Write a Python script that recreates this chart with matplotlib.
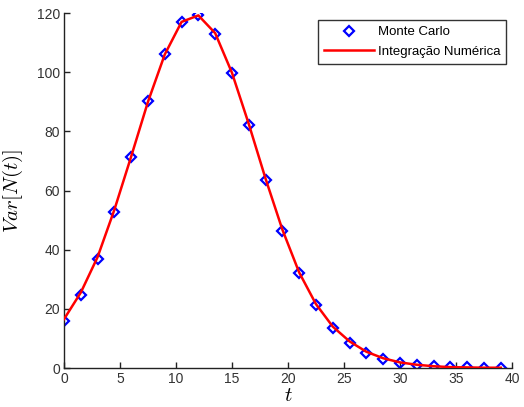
import matplotlib
matplotlib.use("Agg")
import matplotlib.pyplot as plt

plt.rcParams['mathtext.fontset'] = 'cm'

t_mc = [0, 1.5, 3, 4.5, 6, 7.5, 9, 10.5, 12, 13.5, 15, 16.5, 18, 19.5, 21,
        22.5, 24, 25.5, 27, 28.5, 30, 31.5, 33, 34.5, 36, 37.5, 39]
var_mc = [16.0, 24.8, 37.0, 52.8, 71.2, 90.2, 106.3, 117.0, 119.5, 113.0, 99.6,
          82.3, 63.6, 46.2, 32.0, 21.3, 13.5, 8.3, 5.1, 3.0, 1.8, 1.0, 0.7,
          0.3, 0.2, 0.1, 0.1]

t_num = [0, 1.5, 3, 4.5, 6, 7.5, 9, 10.5, 12, 13.5, 15, 16.5, 18, 19.5, 21,
         22.5, 24, 25.5, 27, 28.5, 30, 31.5, 33, 34.5, 36, 37.5, 39]
var_num = [16.5, 25.5, 37.5, 53.5, 71.5, 90.0, 106.0, 117.0, 119.2, 113.2, 99.8,
           82.5, 64.0, 46.8, 32.3, 21.6, 14.0, 9.0, 5.5, 3.3, 1.9, 1.1, 0.6,
           0.3, 0.2, 0.1, 0.1]

fig = plt.figure(figsize=(5.24, 4.07), dpi=100)
ax = fig.add_axes([0.1221, 0.0958, 0.977 - 0.1221, 0.968 - 0.0958])

ax.plot(t_mc, var_mc, linestyle='none', marker='D', markersize=5,
        markerfacecolor='none', markeredgecolor='#0000ff', markeredgewidth=1.6,
        label='Monte Carlo', zorder=2)
ax.plot(t_num, var_num, color='#ff0000', linewidth=1.8,
        label='Integração Numérica', zorder=3)

ax.set_xlim(0, 40)
ax.set_ylim(0, 120)
ax.set_xticks(range(0, 41, 5))
ax.set_yticks(range(0, 121, 20))

for s in ['top', 'right']:
    ax.spines[s].set_visible(False)
for s in ['left', 'bottom']:
    ax.spines[s].set_linewidth(1.0)
    ax.spines[s].set_color('#222222')

ax.tick_params(direction='in', length=4, width=1.0, labelsize=10,
               labelcolor='#333333', color='#222222', pad=3)
for lab in ax.get_xticklabels() + ax.get_yticklabels():
    lab.set_family(['Liberation Sans', 'DejaVu Sans'])

ax.set_xlabel('$t$', fontsize=15, labelpad=-1)
ax.set_ylabel('$Var[N(t)]$', fontsize=15, labelpad=8)

leg = ax.legend(loc='upper right', bbox_to_anchor=(0.987, 0.98),
                frameon=True, fancybox=False, edgecolor='#333333',
                framealpha=1, prop={'family': ['Liberation Sans', 'DejaVu Sans'], 'size': 9.5},
                handlelength=3.8, borderpad=0.45, labelspacing=0.55,
                handletextpad=0.3, borderaxespad=0)
leg.get_frame().set_linewidth(1.0)

fig.savefig('out.png', dpi=100)
